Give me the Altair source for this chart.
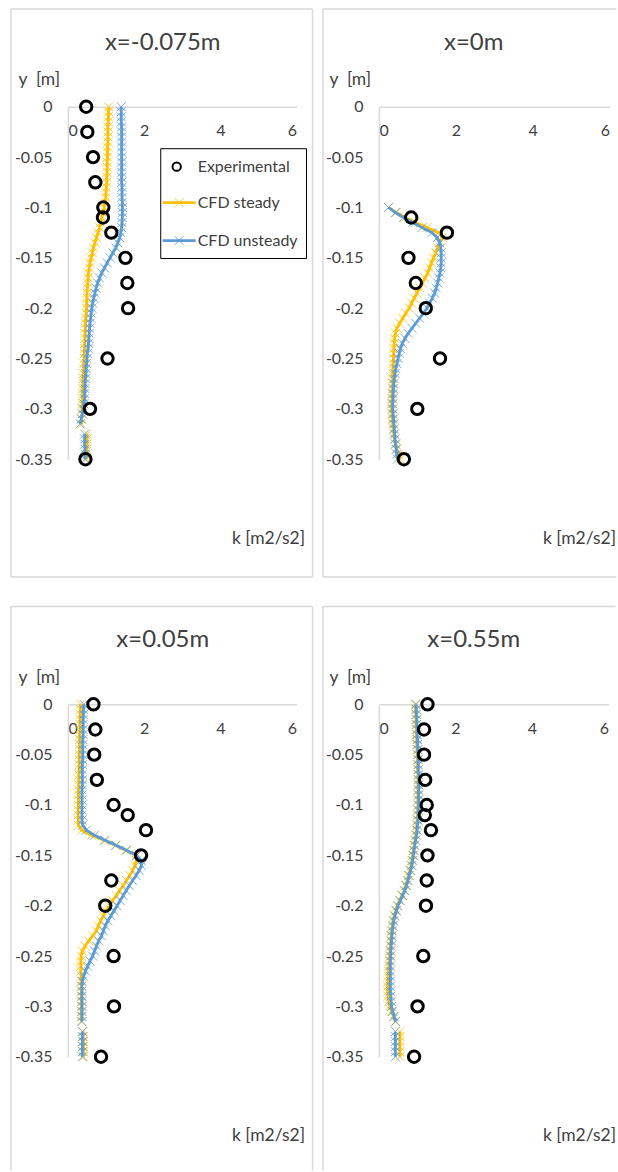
import altair as alt
import pandas as pd

# ---------------------------------------------------------------- data
SERIES = ["Experimental", "CFD steady", "CFD unsteady"]
COLORS = ["#000000", "#FFC000", "#5B9BD5"]
TITLES = ["x=-0.075m", "x=0m", "x=0.05m", "x=0.55m"]
Y_LABEL = "y \u00a0[m]"
K_LABEL = "k [m2/s2]"
Y_TICKS = [0, -0.05, -0.1, -0.15, -0.2, -0.25, -0.3, -0.35]
K_TICKS = [0, 2, 4, 6]

# measurement stations (y, m)
Y_EXP = [0, -0.025, -0.05, -0.075, -0.1, -0.11, -0.125, -0.15, -0.175, -0.2, -0.25, -0.3, -0.35]
Y_EXP_X0 = [-0.11, -0.125, -0.15, -0.175, -0.2, -0.25, -0.3, -0.35]

# measured k
EXP_XM0075 = [0.48, 0.51, 0.66, 0.72, 0.93, 0.92, 1.14, 1.51, 1.56, 1.58, 1.04, 0.58, 0.46]
EXP_X0 = [0.84, 1.77, 0.77, 0.96, 1.22, 1.59, 1.00, 0.65]
EXP_X005 = [0.67, 0.72, 0.69, 0.76, 1.20, 1.57, 2.05, 1.92, 1.14, 0.98, 1.20, 1.21, 0.87]
EXP_X055 = [1.27, 1.18, 1.18, 1.21, 1.25, 1.20, 1.36, 1.27, 1.25, 1.23, 1.16, 1.01, 0.92]

# CFD sampling stations (y, m)
Y_CFD = [0.0, -0.005, -0.01, -0.015, -0.02, -0.025, -0.03, -0.035, -0.04, -0.045,
         -0.05, -0.055, -0.06, -0.065, -0.07, -0.075, -0.08, -0.085, -0.09, -0.095,
         -0.1, -0.105, -0.11, -0.115, -0.12, -0.125, -0.13, -0.135, -0.14, -0.145,
         -0.15, -0.155, -0.16, -0.165, -0.17, -0.175, -0.18, -0.185, -0.19, -0.195,
         -0.2, -0.205, -0.21, -0.215, -0.22, -0.225, -0.23, -0.235, -0.24, -0.245,
         -0.25, -0.255, -0.26, -0.265, -0.27, -0.275, -0.28, -0.285, -0.29, -0.295,
         -0.3, -0.305, -0.31, -0.315, -0.32, -0.325, -0.33, -0.335, -0.34, -0.345, -0.35]

# CFD k profiles (None = no value at that station)
STEADY_XM0075 = [1.07, 1.07, 1.06, 1.06, 1.05, 1.05, 1.05, 1.05, 1.04, 1.04,
                 1.04, 1.03, 1.03, 1.03, 1.02, 1.02, 1.01, 1.00, 0.99, 0.97,
                 0.95, 0.92, 0.89, 0.86, 0.83, 0.79, 0.75, 0.71, 0.67, 0.64,
                 0.61, 0.58, 0.56, 0.54, 0.53, 0.52, 0.51, 0.50, 0.50, 0.49,
                 0.49, 0.48, 0.47, 0.46, 0.46, 0.45, 0.45, 0.44, 0.44, 0.43,
                 0.43, 0.42, 0.42, 0.41, 0.40, 0.40, 0.39, 0.39, 0.38, 0.38,
                 0.37, 0.37, 0.36, 0.36, None, 0.50, 0.50, 0.50, 0.49, 0.49, 0.49]
UNSTEADY_XM0075 = [1.40, 1.40, 1.40, 1.40, 1.41, 1.41, 1.41, 1.41, 1.41, 1.41,
                   1.41, 1.41, 1.41, 1.41, 1.41, 1.41, 1.42, 1.42, 1.42, 1.43,
                   1.43, 1.43, 1.43, 1.42, 1.41, 1.39, 1.36, 1.31, 1.26, 1.18,
                   1.11, 1.03, 0.96, 0.89, 0.83, 0.78, 0.74, 0.71, 0.68, 0.65,
                   0.63, 0.61, 0.60, 0.58, 0.57, 0.56, 0.55, 0.54, 0.53, 0.51,
                   0.50, 0.49, 0.48, 0.47, 0.46, 0.45, 0.45, 0.44, 0.44, 0.42,
                   0.40, 0.38, 0.35, 0.32, None, 0.44, 0.44, 0.44, 0.45, 0.45, 0.45]
# x=0m profiles start at y=-0.1
STEADY_X0 = [0.25, 0.45, 0.68, 0.95, 1.25, 1.55, 1.65, 1.58, 1.53, 1.48,
             1.42, 1.37, 1.32, 1.27, 1.20, 1.13, 1.06, 0.99, 0.92, 0.85,
             0.79, 0.70, 0.62, 0.54, 0.47, 0.43, 0.41, 0.40, 0.39, 0.38,
             0.38, 0.37, 0.37, 0.36, 0.36, 0.36, 0.35, 0.34, 0.34, 0.33,
             0.33, 0.34, 0.35, 0.36, 0.37, 0.39, 0.41, 0.44, 0.47, 0.51, 0.55]
UNSTEADY_X0 = [0.25, 0.43, 0.64, 0.88, 1.12, 1.38, 1.52, 1.58, 1.61, 1.62,
               1.62, 1.62, 1.61, 1.59, 1.56, 1.53, 1.49, 1.45, 1.39, 1.32,
               1.25, 1.16, 1.06, 0.96, 0.86, 0.76, 0.68, 0.61, 0.56, 0.53,
               0.50, 0.47, 0.44, 0.42, 0.40, 0.39, 0.38, 0.37, 0.37, 0.36,
               0.36, 0.37, 0.38, 0.39, 0.40, 0.41, 0.42, 0.43, 0.45, 0.46, 0.48]
STEADY_X005 = [0.34, 0.33, 0.33, 0.32, 0.32, 0.32, 0.31, 0.31, 0.31, 0.31,
               0.30, 0.30, 0.30, 0.30, 0.29, 0.29, 0.29, 0.28, 0.28, 0.28,
               0.28, 0.27, 0.27, 0.27, 0.28, 0.36, 0.62, 0.95, 1.25, 1.52,
               1.80, 1.80, 1.76, 1.70, 1.62, 1.54, 1.45, 1.36, 1.27, 1.17,
               1.08, 1.00, 0.93, 0.86, 0.80, 0.75, 0.65, 0.55, 0.45, 0.38,
               0.35, 0.34, 0.34, 0.34, 0.35, 0.35, 0.35, 0.35, 0.35, 0.35,
               0.35, 0.35, 0.35, 0.35, None, 0.40, 0.40, 0.41, 0.41, 0.41, 0.41]
UNSTEADY_X005 = [0.42, 0.41, 0.41, 0.40, 0.40, 0.40, 0.40, 0.39, 0.39, 0.39,
                 0.39, 0.39, 0.38, 0.38, 0.38, 0.38, 0.38, 0.37, 0.37, 0.37,
                 0.37, 0.37, 0.37, 0.37, 0.39, 0.48, 0.70, 0.98, 1.26, 1.54,
                 1.80, 1.92, 1.93, 1.87, 1.79, 1.70, 1.61, 1.53, 1.45, 1.37,
                 1.29, 1.21, 1.13, 1.05, 0.98, 0.93, 0.88, 0.81, 0.75, 0.70,
                 0.65, 0.58, 0.52, 0.46, 0.41, 0.38, 0.37, 0.37, 0.37, 0.37,
                 0.37, 0.37, 0.37, 0.37, None, 0.38, 0.38, 0.38, 0.38, 0.38, 0.38]
STEADY_X055 = [0.95, 0.96, 0.96, 0.97, 0.97, 0.98, 0.98, 0.99, 0.99, 1.00,
               1.00, 1.01, 1.01, 1.01, 1.02, 1.02, 1.02, 1.02, 1.02, 1.02,
               1.02, 1.01, 1.01, 1.00, 0.99, 0.98, 0.96, 0.94, 0.92, 0.90,
               0.88, 0.86, 0.84, 0.81, 0.77, 0.74, 0.70, 0.66, 0.60, 0.54,
               0.48, 0.44, 0.40, 0.37, 0.35, 0.33, 0.32, 0.31, 0.30, 0.29,
               0.28, 0.27, 0.26, 0.25, 0.24, 0.24, 0.23, 0.23, 0.24, 0.26,
               0.29, 0.33, 0.38, 0.43, None, 0.55, 0.55, 0.55, 0.55, 0.55, 0.55]
UNSTEADY_X055 = [0.97, 0.98, 0.98, 0.99, 0.99, 1.00, 1.00, 1.01, 1.01, 1.02,
                 1.02, 1.03, 1.03, 1.03, 1.04, 1.04, 1.04, 1.04, 1.04, 1.04,
                 1.04, 1.03, 1.03, 1.02, 1.01, 1.00, 0.98, 0.96, 0.94, 0.92,
                 0.90, 0.88, 0.86, 0.83, 0.79, 0.76, 0.72, 0.68, 0.62, 0.56,
                 0.50, 0.46, 0.42, 0.39, 0.37, 0.35, 0.34, 0.33, 0.32, 0.31,
                 0.31, 0.30, 0.30, 0.30, 0.30, 0.30, 0.30, 0.30, 0.31, 0.32,
                 0.33, 0.36, 0.40, 0.44, None, 0.43, 0.43, 0.43, 0.43, 0.43, 0.43]

# ---------------------------------------------------------------- style
FONT = "Lato"
TEXT_COLOR = "#404040"
AXIS_COLOR = "#d9d9d9"
FRAME_COLOR = "#d9d9d9"
CROSS = "M-1,-1L1,1M-1,1L1,-1"
H = 353

ONE = pd.DataFrame({"n": [0]})

PANELS = [
    dict(title=TITLES[0], width=229, y_exp=Y_EXP, exp=EXP_XM0075, y_cfd=Y_CFD,
         steady=STEADY_XM0075, unsteady=UNSTEADY_XM0075, legend=True,
         frame=[(-57, -98, -57, 471), (-57, -98, 245, -98), (245, -98, 245, 471), (-57, 471, 245, 471)]),
    dict(title=TITLES[1], width=231, y_exp=Y_EXP_X0, exp=EXP_X0, y_cfd=Y_CFD[20:],
         steady=STEADY_X0, unsteady=UNSTEADY_X0, legend=False,
         frame=[(-56, -98, -56, 471), (-56, -98, 238, -98), (-56, 471, 238, 471)]),
    dict(title=TITLES[2], width=229, y_exp=Y_EXP, exp=EXP_X005, y_cfd=Y_CFD,
         steady=STEADY_X005, unsteady=UNSTEADY_X005, legend=False,
         frame=[(-57, -98, -57, 467), (-57, -98, 245, -98), (245, -98, 245, 467)]),
    dict(title=TITLES[3], width=230, y_exp=Y_EXP, exp=EXP_X055, y_cfd=Y_CFD,
         steady=STEADY_X055, unsteady=UNSTEADY_X055, legend=False,
         frame=[(-56, -98, -56, 467), (-56, -98, 237, -98)]),
]


def cfd_frame(ys, ks, name):
    rows, seg = [], 0
    for y, k in zip(ys, ks):
        if k is None:
            seg += 1
            continue
        rows.append({"y": y, "k": k, "series": name, "seg": seg})
    return pd.DataFrame(rows)


def make_panel(p):
    x_enc = alt.X(
        "k:Q",
        scale=alt.Scale(domain=[0, 6], nice=False, zero=False),
        axis=alt.Axis(orient="bottom", offset=-H, values=K_TICKS,
                      labelExpr="toString(datum.value)", labelPadding=16,
                      labelBaseline="top", title=K_LABEL, titleX=237, titleY=432,
                      titleAlign="right", titleBaseline="middle", titleAngle=0),
    )
    y_enc = alt.Y(
        "y:Q",
        scale=alt.Scale(domain=[-0.35, 0], nice=False, zero=False),
        axis=alt.Axis(orient="left", values=Y_TICKS, labelExpr="toString(datum.value)",
                      labelPadding=16, title=Y_LABEL, titleAngle=0, titleX=-50,
                      titleY=-27, titleAlign="left", titleBaseline="middle"),
    )
    color_enc = alt.Color("series:N", scale=alt.Scale(domain=SERIES, range=COLORS), legend=None)

    layers = []
    # panel frame
    for (x1, y1, x2, y2) in p["frame"]:
        layers.append(
            alt.Chart(ONE).mark_rule(color=FRAME_COLOR, strokeWidth=1.5).encode(
                x=alt.value(x1), x2=alt.value(x2), y=alt.value(y1), y2=alt.value(y2))
        )
    # panel title
    layers.append(
        alt.Chart(pd.DataFrame({"t": [p["title"]]})).mark_text(
            font=FONT, fontSize=24, color=TEXT_COLOR, align="center", baseline="middle"
        ).encode(x=alt.value(95), y=alt.value(-64), text="t:N")
    )
    # CFD profiles: line then "x" markers
    for name, ks in [(SERIES[1], p["steady"]), (SERIES[2], p["unsteady"])]:
        d = cfd_frame(p["y_cfd"], ks, name)
        layers.append(
            alt.Chart(d).mark_line(strokeWidth=2.75).encode(
                x=x_enc, y=y_enc, color=color_enc, detail="seg:N",
                order=alt.Order("y:Q", sort="descending"))
        )
        layers.append(
            alt.Chart(d).mark_point(shape=CROSS, filled=False, strokeWidth=1, size=81, opacity=0.8).encode(
                x=x_enc, y=y_enc, color=color_enc)
        )
    # experimental points
    exp = pd.DataFrame({"y": p["y_exp"], "k": p["exp"], "series": SERIES[0]})
    layers.append(
        alt.Chart(exp).mark_point(shape="circle", filled=False, strokeWidth=3, size=130, opacity=1).encode(
            x=x_enc, y=y_enc, color=color_enc)
    )

    if p["legend"]:
        box = alt.Chart(ONE).mark_rect(fill="white", stroke="black", strokeWidth=1).encode(
            x=alt.value(93), x2=alt.value(239), y=alt.value(42), y2=alt.value(152))
        layers.append(box)
        rows_y = [60, 96, 134]
        for name, ry in zip(SERIES, rows_y):
            ld = pd.DataFrame({"series": [name]})
            if name == SERIES[0]:
                layers.append(
                    alt.Chart(ld).mark_point(shape="circle", filled=False, strokeWidth=2, size=70, opacity=1).encode(
                        x=alt.value(109), y=alt.value(ry), color=color_enc))
            else:
                layers.append(
                    alt.Chart(ld).mark_rule(strokeWidth=2.75).encode(
                        x=alt.value(95), x2=alt.value(128), y=alt.value(ry), color=color_enc))
                layers.append(
                    alt.Chart(ld).mark_point(shape=CROSS, filled=False, strokeWidth=1, size=81, opacity=0.8).encode(
                        x=alt.value(111.5), y=alt.value(ry), color=color_enc))
            layers.append(
                alt.Chart(ld).mark_text(font=FONT, fontSize=16, color=TEXT_COLOR, align="left", baseline="middle").encode(
                    x=alt.value(130), y=alt.value(ry), text="series:N"))

    return alt.layer(*layers).properties(width=p["width"], height=H)


panels = [make_panel(p) for p in PANELS]
top = alt.hconcat(panels[0], panels[1], spacing=8.5).resolve_scale(x="independent", y="independent")
bottom = alt.hconcat(panels[2], panels[3], spacing=8.5).resolve_scale(x="independent", y="independent")

chart = (
    alt.vconcat(top, bottom, spacing=27.5)
    .resolve_scale(x="independent", y="independent")
    .properties(padding={"left": 10, "top": 7, "right": 0, "bottom": 0}, background="white")
    .configure_view(stroke=None)
    .configure_axis(
        labelFont=FONT, titleFont=FONT, labelFontSize=16, titleFontSize=17.5,
        labelColor=TEXT_COLOR, titleColor=TEXT_COLOR, titleFontWeight="normal",
        domainColor=AXIS_COLOR, domainWidth=1.5, ticks=False, grid=False,
    )
)

chart.save("out.html", embed_options={"renderer": "svg", "actions": False})
